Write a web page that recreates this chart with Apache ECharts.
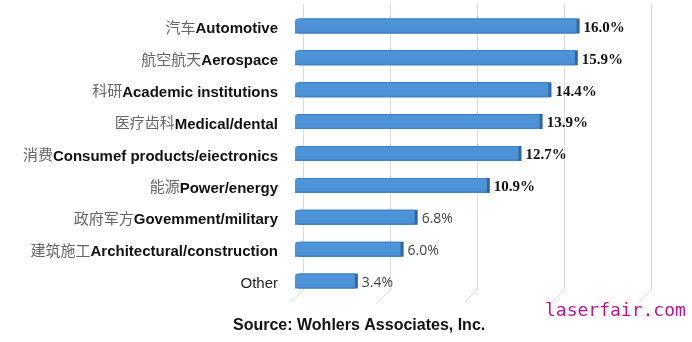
<!DOCTYPE html>
<html><head><meta charset="utf-8">
<script src="https://cdn.jsdelivr.net/npm/echarts@6/dist/echarts.min.js"></script>
<style>html,body{margin:0;padding:0;background:#fff}#c{width:692px;height:342px}</style>
</head><body><div id="c"></div>
<script>
const catCn = ['汽车','航空航天','科研','医疗齿科','消费','能源','政府军方','建筑施工',''];
const catEn = ['Automotive','Aerospace','Academic institutions','Medical/dental','Consumef products/eiectronics','Power/energy','Govemment/military','Architectural/construction','Other'];
const values = [16.0, 15.9, 14.4, 13.9, 12.7, 10.9, 6.8, 6.0, 3.4];
const valueLabels = ['16.0%','15.9%','14.4%','13.9%','12.7%','10.9%','6.8%','6.0%','3.4%'];
const serifLabelCount = 6;
const xMax = 20, xStep = 5;

const chart = echarts.init(document.getElementById('c'));
const cats = catEn.map((e,i)=>i);
const data = values.map((v,i)=>{
  const serif = i < serifLabelCount;
  return {
    value: v,
    label: {
      formatter: valueLabels[i],
      fontFamily: serif ? 'Liberation Serif' : 'Open Sans',
      fontWeight: serif ? 'bold' : 'normal',
      fontSize: serif ? 15 : 14,
      color: serif ? '#111' : '#444'
    }
  };
});
chart.setOption({
  animation:false,
  grid:[
    {left:295, width:352, top:10, height:287},
    {left:303, width:348, top:4, height:286}
  ],
  xAxis:[
    {gridIndex:0, type:'value', min:0, max:xMax, interval:xStep, show:false},
    {gridIndex:1, type:'value', min:0, max:xMax, interval:xStep,
     axisLabel:{show:false}, axisLine:{show:false}, axisTick:{show:false},
     splitLine:{show:true, lineStyle:{color:'#dcdcdc', width:1}}}
  ],
  yAxis:[
    {gridIndex:0, type:'category', data:cats, inverse:true,
     axisLine:{show:false}, axisTick:{show:false},
     axisLabel:{margin:17, padding:[6,0,0,0], formatter:(v)=>{const i=+v; return catCn[i]?('{cn|'+catCn[i]+'}{en|'+catEn[i]+'}'):('{ot|'+catEn[i]+'}');},
       rich:{
         cn:{fontFamily:'Noto Sans CJK SC', fontSize:15, color:'#666', fontWeight:'normal', lineHeight:20, padding:[0,0,4,0]},
         en:{fontFamily:'Liberation Sans', fontSize:15, color:'#111', fontWeight:'bold', lineHeight:20},
         ot:{fontFamily:'Liberation Sans', fontSize:15, color:'#222', fontWeight:'normal', lineHeight:20}
       }}},
    {gridIndex:1, type:'category', data:cats, show:false}
  ],
  series:[{
    type:'bar', xAxisIndex:0, yAxisIndex:0, data:data, barWidth:15,
    itemStyle:{
      color:new echarts.graphic.LinearGradient(0,0,0,1,[
        {offset:0,color:'#3c7cc0'},{offset:0.12,color:'#4f95da'},{offset:0.85,color:'#4a8fd4'},{offset:1,color:'#3f7fc2'}]),
      borderRadius:[3,0,0,0],
      shadowColor:'#2e67a6', shadowOffsetX:3, shadowOffsetY:0, shadowBlur:0
    },
    label:{show:true, position:'right', distance:7, offset:[0,2]}
  }],
  graphic:[
    {type:'text', left:233, top:318, style:{text:'Source: Wohlers Associates, Inc.', font:'bold 16px "Liberation Sans"', fill:'#111'}},
    {type:'text', left:545, top:302, style:{text:'laserfair.com', font:'18px "DejaVu Sans Mono"', fill:'#b5168f'}}
  ]
});
const extra = [];
for (let v=0; v<=xMax; v+=xStep){
  const p = chart.convertToPixel({xAxisIndex:1, yAxisIndex:1}, [v, 8]);
  const x = p[0], y = 290;
  extra.push({type:'line', shape:{x1:x, y1:y, x2:x-12, y2:y+12}, style:{stroke:'#dcdcdc', lineWidth:1}, silent:true});
}
chart.setOption({graphic: extra.map((g,i)=>Object.assign({id:'fl'+i}, g))});
</script></body></html>
